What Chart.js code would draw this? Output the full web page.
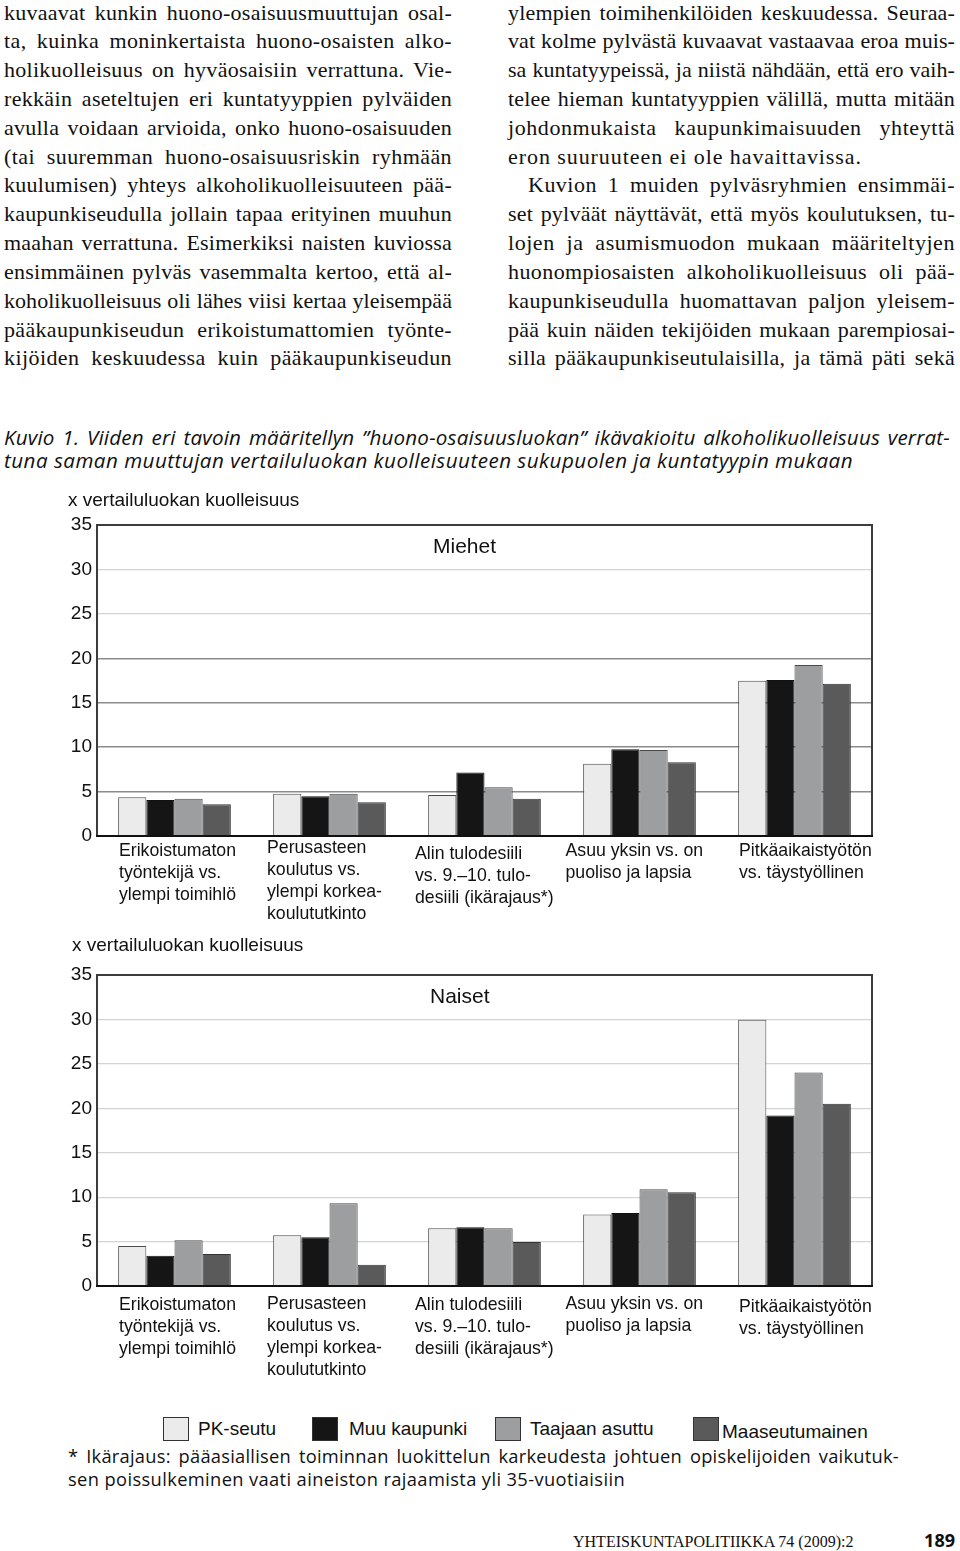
<!DOCTYPE html>
<html><head><meta charset="utf-8">
<script src="https://cdn.jsdelivr.net/npm/chart.js@4.4.1/dist/chart.umd.min.js"></script>
<style>
html,body{margin:0;padding:0;background:#fff;}
body{width:960px;height:1551px;position:relative;overflow:hidden;color:#111;}
.col{position:absolute;top:-1.5px;font-family:"Liberation Serif",serif;font-size:22px;line-height:28.83px;}
.col div{white-space:nowrap;height:28.83px;}
#colL{left:4px;width:448px;}
#colR{left:508px;width:447px;}
.ind{padding-left:20px;box-sizing:border-box;}
#cap{position:absolute;left:4px;top:426px;width:946px;font-family:"Open Sans",sans-serif;font-style:italic;font-size:20.6px;line-height:23px;}
#cap div{white-space:nowrap;height:23px;}
#foot{position:absolute;left:68px;top:1445px;width:831px;font-family:"Open Sans",sans-serif;font-size:18.3px;line-height:22.5px;}
#foot div{white-space:nowrap;height:22.5px;}
canvas{position:absolute;left:0;}
#c1{top:480px;}
#c2{top:930px;}
.lg{position:absolute;font-family:"Liberation Sans",sans-serif;font-size:19px;line-height:19px;white-space:nowrap;}
.box{position:absolute;width:24px;height:22px;border:1px solid #333;}
#pub{position:absolute;left:573px;top:1534px;font-family:"Liberation Serif",serif;font-size:16px;line-height:16px;white-space:nowrap;}
#pg{position:absolute;right:5px;top:1531px;font-family:"Open Sans",sans-serif;font-weight:bold;font-size:18px;line-height:18px;}
</style></head>
<body>
<div class="col" id="colL">
<div class="j">kuvaavat kunkin huono-osaisuusmuuttujan osal-</div>
<div class="j">ta, kuinka moninkertaista huono-osaisten alko-</div>
<div class="j">holikuolleisuus on hyväosaisiin verrattuna. Vie-</div>
<div class="j">rekkäin aseteltujen eri kuntatyyppien pylväiden</div>
<div class="j">avulla voidaan arvioida, onko huono-osaisuuden</div>
<div class="j">(tai suuremman huono-osaisuusriskin ryhmään</div>
<div class="j">kuulumisen) yhteys alkoholikuolleisuuteen pää-</div>
<div class="j">kaupunkiseudulla jollain tapaa erityinen muuhun</div>
<div class="j">maahan verrattuna. Esimerkiksi naisten kuviossa</div>
<div class="j">ensimmäinen pylväs vasemmalta kertoo, että al-</div>
<div class="j">koholikuolleisuus oli lähes viisi kertaa yleisempää</div>
<div class="j">pääkaupunkiseudun erikoistumattomien työnte-</div>
<div class="j">kijöiden keskuudessa kuin pääkaupunkiseudun</div>
</div>
<div class="col" id="colR">
<div class="j">ylempien toimihenkilöiden keskuudessa. Seuraa-</div>
<div class="j">vat kolme pylvästä kuvaavat vastaavaa eroa muis-</div>
<div class="j">sa kuntatyypeissä, ja niistä nähdään, että ero vaih-</div>
<div class="j">telee hieman kuntatyyppien välillä, mutta mitään</div>
<div class="j">johdonmukaista kaupunkimaisuuden yhteyttä</div>
<div class="j" data-w="354">eron suuruuteen ei ole havaittavissa.</div>
<div class="j ind">Kuvion 1 muiden pylväsryhmien ensimmäi-</div>
<div class="j">set pylväät näyttävät, että myös koulutuksen, tu-</div>
<div class="j">lojen ja asumismuodon mukaan määriteltyjen</div>
<div class="j">huonompiosaisten alkoholikuolleisuus oli pää-</div>
<div class="j">kaupunkiseudulla huomattavan paljon yleisem-</div>
<div class="j">pää kuin näiden tekijöiden mukaan parempiosai-</div>
<div class="j">silla pääkaupunkiseutulaisilla, ja tämä päti sekä</div>
</div>
<div id="cap">
<div class="j">Kuvio 1. Viiden eri tavoin määritellyn ”huono-osaisuusluokan” ikävakioitu alkoholikuolleisuus verrat-</div>
<div class="j" data-w="849">tuna saman muuttujan vertailuluokan kuolleisuuteen sukupuolen ja kuntatyypin mukaan</div>
</div>
<canvas id="c1" width="960" height="450"></canvas>
<canvas id="c2" width="960" height="470"></canvas>
<div id="legend"></div>
<div id="foot">
<div class="j">* Ikärajaus: pääasiallisen toiminnan luokittelun karkeudesta johtuen opiskelijoiden vaikutuk-</div>
<div class="j" data-w="557">sen poissulkeminen vaati aineiston rajaamista yli 35-vuotiaisiin</div>
</div>
<div id="pub">YHTEISKUNTAPOLITIIKKA 74 (2009):2</div>
<div id="pg">189</div>
<script>
// ---- data ----
const categories = [
  ["Erikoistumaton","työntekijä vs.","ylempi toimihlö"],
  ["Perusasteen","koulutus vs.","ylempi korkea-","koulututkinto"],
  ["Alin tulodesiili","vs. 9.–10. tulo-","desiili (ikärajaus*)"],
  ["Asuu yksin vs. on","puoliso ja lapsia"],
  ["Pitkäaikaistyötön","vs. täystyöllinen"]
];
const seriesNames = ["PK-seutu","Muu kaupunki","Taajaan asuttu","Maaseutumainen"];
const yTicks = [0,5,10,15,20,25,30,35];
const axisTitle = "x vertailuluokan kuolleisuus";
const panelMen = "Miehet";
const panelWomen = "Naiset";
const menPK   = [4.35, 4.76, 4.61, 8.14, 17.48];
const menMuu  = [4.05, 4.46, 7.16, 9.75, 17.55];
const menTaaj = [4.20, 4.76, 5.48, 9.68, 19.24];
const menMaa  = [3.56, 3.79, 4.20, 8.29, 17.14];
const womenPK   = [4.50, 5.70, 6.49, 8.06, 29.97];
const womenMuu  = [3.41, 5.48, 6.60, 8.21, 19.20];
const womenTaaj = [5.14, 9.30, 6.49, 10.88, 24.04];
const womenMaa  = [3.60, 2.40, 4.95, 10.54, 20.52];

// ---- styles ----
const fills = ["#ebebeb","#151515","#9d9ea0","#5a5a5b"];
const edges = ["#4a4a4a","#111111","#4a4a4a","#333333"];
const labelDx = [-55.5,-62.5,-69.5,-74,-55.5];

// fit text lines to their measured widths
document.querySelectorAll('.j').forEach(el=>{
  const span=document.createElement('span');
  span.textContent=el.textContent.trim(); el.textContent=''; el.appendChild(span);
  const cs=getComputedStyle(el);
  const fixed=!!el.dataset.w;
  const target=fixed?parseFloat(el.dataset.w):el.clientWidth-(parseFloat(cs.paddingLeft)||0)-(parseFloat(cs.paddingRight)||0);
  const txt=span.textContent;
  const n=(txt.match(/ /g)||[]).length;
  const len=txt.length;
  let w=span.getBoundingClientRect().width;
  let extra=target-w;
  const ls=((n&&!fixed)?extra*0.5:extra)/len;
  span.style.letterSpacing=ls+'px';
  w=span.getBoundingClientRect().width;
  extra=target-w;
  if(n) span.style.wordSpacing=(extra/n)+'px';
});

// legend
(function(){
  const lg=document.getElementById('legend');
  const pos=[[163,198,1419],[312,349,1419],[495,530,1419],[693,722,1422]];
  seriesNames.forEach((n,k)=>{
    const b=document.createElement('div'); b.className='box';
    b.style.left=pos[k][0]+'px'; b.style.top='1417px'; b.style.background=fills[k];
    lg.appendChild(b);
    const t=document.createElement('div'); t.className='lg'; t.textContent=n;
    t.style.left=pos[k][1]+'px'; t.style.top=pos[k][2]+'px';
    lg.appendChild(t);
  });
})();

const decor={
  id:'decor',
  afterDraw(chart,args,o){
    const {ctx,chartArea:a,scales:{x}}=chart;
    ctx.save();
    ctx.strokeStyle='#3c3c3c'; ctx.lineWidth=2;
    ctx.strokeRect(a.left,a.top,a.right-a.left,a.bottom-a.top);
    ctx.strokeStyle='#111'; ctx.beginPath(); ctx.moveTo(a.left-1,a.bottom); ctx.lineTo(a.right+1,a.bottom); ctx.stroke();
    ctx.fillStyle='#111'; ctx.textAlign='left'; ctx.textBaseline='alphabetic';
    ctx.font='19px "Liberation Sans"';
    ctx.fillText(o.title,o.titleX,o.titleY);
    ctx.font='21px "Liberation Sans"';
    ctx.fillText(o.panel,a.left+o.panelDx,a.top+28);
    ctx.font='17.7px "Liberation Sans"';
    chart.data.labels.forEach((lines,i)=>{
      const px=x.getPixelForValue(i)+labelDx[i];
      lines.forEach((t,j)=>ctx.fillText(t,px,a.bottom+o.labelBase+o.labelDy[i]+j*22));
    });
    ctx.restore();
  }
};

function makeChart(id,series,gridColor,bottomH,deco){
  return new Chart(document.getElementById(id),{
    type:'bar',
    data:{labels:categories,datasets:seriesNames.map((n,k)=>({label:n,data:series[k],backgroundColor:fills[k],borderColor:edges[k],borderWidth:1,categoryPercentage:0.727,barPercentage:1}))},
    options:{
      responsive:false,animation:false,
      layout:{padding:{top:45,right:88,left:0,bottom:0}},
      plugins:{legend:{display:false},tooltip:{enabled:false},decor:deco},
      scales:{
        x:{grid:{display:false},border:{display:false},ticks:{display:false},afterFit(s){s.height=bottomH;}},
        y:{min:0,max:35,
          afterBuildTicks(s){s.ticks=yTicks.map(v=>({value:v}));},
          ticks:{padding:5,color:'#111',font:{family:'"Liberation Sans"',size:19}},
          grid:{color:gridColor,lineWidth:c=>(c.tick&&c.tick.value<25&&id==='c1')?1.5:1.2,drawTicks:false},
          border:{display:false},
          afterFit(s){s.width=97;}}
      }
    },
    plugins:[decor]
  });
}

makeChart('c1',[menPK,menMuu,menTaaj,menMaa],
  c=>(c.tick&&c.tick.value<25)?'#8a8a8a':'#d4d4d4',94,
  {title:axisTitle,titleX:68,titleY:26,panel:panelMen,panelDx:336,labelBase:19.5,labelDy:[0,-3,3.5,0,0]});
makeChart('c2',[womenPK,womenMuu,womenTaaj,womenMaa],
  '#d4d4d4',114,
  {title:axisTitle,titleX:72,titleY:21,panel:panelWomen,panelDx:333,labelBase:24,labelDy:[0,-1,0,-1,2]});
</script>
</body></html>
